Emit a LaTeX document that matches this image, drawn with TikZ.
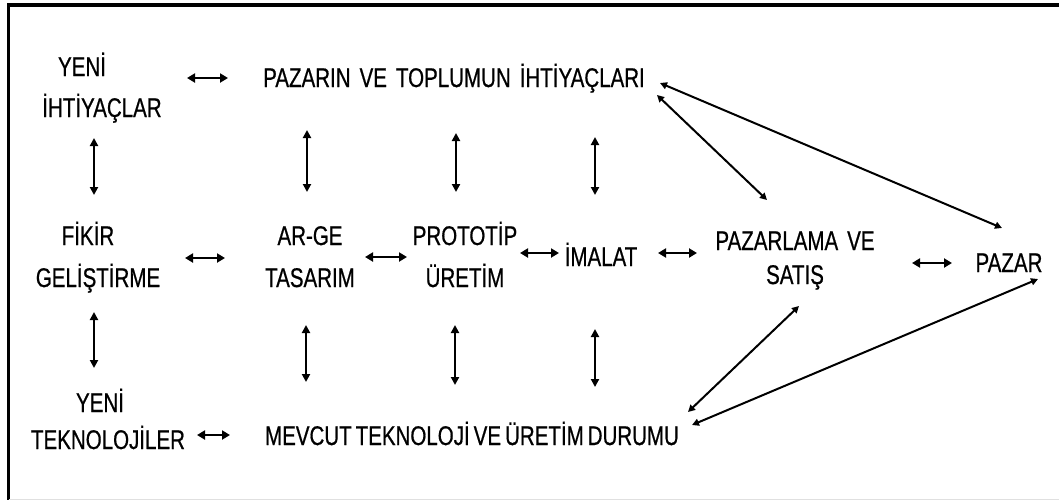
\documentclass[tikz,border=0pt]{standalone}
\usepackage{fontspec}
\setmainfont{Liberation Sans}[FakeStretch=0.76,FakeBold=0.6]
\usetikzlibrary{arrows.meta}
\begin{document}
\begin{tikzpicture}[x=1pt,y=-1pt,
  lbl/.style={anchor=base,inner sep=0pt,font=\fontsize{27}{41}\selectfont},
  harr/.style={{Triangle[length=8pt,width=9pt]}-{Triangle[length=8pt,width=9pt]},line width=2.8pt},
  varr/.style={{Triangle[length=8pt,width=8pt]}-{Triangle[length=8pt,width=8pt]},line width=2pt},
  darr/.style={{Triangle[length=7pt,width=7pt]}-{Triangle[length=7pt,width=7pt]},line width=2pt}]
\useasboundingbox (0,0) rectangle (1059,501);
% frame
\draw[line width=3.5pt] (1059,5) -- (8.5,5) -- (8.5,500);
\draw[black!12,line width=1pt] (8.5,499.5) -- (1059,499.5);

% labels
\newcommand{\twolines}[3][0pt]{\begin{tabular}[t]{@{}c@{}}#2\\[#1]#3\end{tabular}}
\newcommand{\gap}{\hspace{9pt}}
\node[lbl] (ihtiyac)   at (102,76)  {\twolines{\hspace*{-40pt}YENİ}{İHTİYAÇLAR}};
\node[lbl] (pazarin)   at (454,87)  {PAZARIN\gap VE\gap TOPLUMUN\gap İHTİYAÇLARI};
\node[lbl] (fikir)     at (98,245)  {\twolines[1pt]{\hspace*{-20pt}FİKİR}{GELİŞTİRME}};
\node[lbl] (arge)      at (310,245) {\twolines[1pt]{AR-GE}{TASARIM}};
\node[lbl] (prototip)  at (465,245) {\twolines[1pt]{PROTOTİP}{ÜRETİM}};
\node[lbl] (imalat)    at (601,266) {İMALAT};
\node[lbl] (pazarlama) at (795,250) {\twolines[-7pt]{PAZARLAMA\gap VE}{SATIŞ}};
\node[lbl] (pazar)     at (1009,272) {PAZAR};
\node[lbl] (yenitek)   at (108,412) {\twolines[-4pt]{\hspace*{-16pt}YENİ}{TEKNOLOJİLER}};
\node[lbl] (mevcut)    at (472,445) {MEVCUT\hspace{4pt}TEKNOLOJİ\hspace{4pt}VE\hspace{4pt}ÜRETİM\hspace{4pt}DURUMU};

% horizontal links
\draw[harr] ([shift={(85,2)}]ihtiyac.base)   -- ([shift={(-226,-9)}]pazarin.base);
\draw[harr] ([shift={(87,13)}]fikir.base)    -- ([shift={(-85,13)}]arge.base);
\draw[harr] ([shift={(55,12)}]arge.base)     -- ([shift={(-58,12)}]prototip.base);
\draw[harr] ([shift={(55,8)}]prototip.base)  -- ([shift={(-42,-13)}]imalat.base);
\draw[harr] ([shift={(57,-13)}]imalat.base)  -- ([shift={(-98,3)}]pazarlama.base);
\draw[harr] ([shift={(117,13)}]pazarlama.base) -- ([shift={(-57,-9)}]pazar.base);
\draw[harr] ([shift={(89,23)}]yenitek.base)  -- ([shift={(-242,-10)}]mevcut.base);

% vertical links
\draw[varr] ([shift={(-8,62)}]ihtiyac.base)   -- ([shift={(-4,-50)}]fikir.base);
\draw[varr] ([shift={(-147,43)}]pazarin.base) -- ([shift={(-3,-53)}]arge.base);
\draw[varr] ([shift={(2,46)}]pazarin.base)    -- ([shift={(-9,-53)}]prototip.base);
\draw[varr] ([shift={(141,50)}]pazarin.base)  -- ([shift={(-6,-71)}]imalat.base);
\draw[varr] ([shift={(-4,67)}]fikir.base)     -- ([shift={(-14,-44)}]yenitek.base);
\draw[varr] ([shift={(-4,80)}]arge.base)      -- ([shift={(-166,-63)}]mevcut.base);
\draw[varr] ([shift={(-10,80)}]prototip.base) -- ([shift={(-17,-60)}]mevcut.base);
\draw[varr] ([shift={(-6,63)}]imalat.base)    -- ([shift={(123,-58)}]mevcut.base);

% diagonal links
\draw[darr] ([shift={(206,-4)}]pazarin.base)  -- ([shift={(-7,-44)}]pazar.base);
\draw[darr] ([shift={(203,8)}]pazarin.base)   -- ([shift={(-28,-50)}]pazarlama.base);
\draw[darr] ([shift={(4,56)}]pazarlama.base)  -- ([shift={(216,-33)}]mevcut.base);
\draw[darr] ([shift={(29,7)}]pazar.base)      -- ([shift={(220,-20)}]mevcut.base);
\end{tikzpicture}
\end{document}
